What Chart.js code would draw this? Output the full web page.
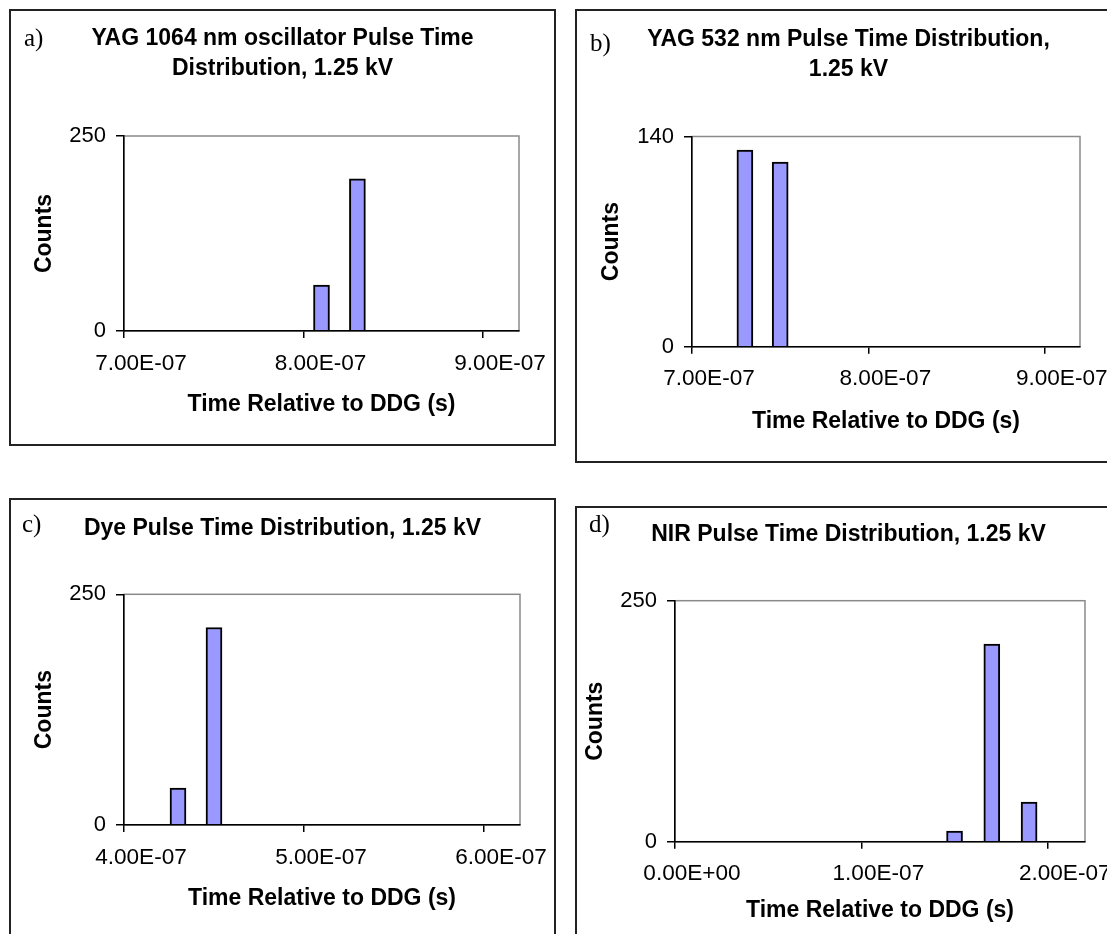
<!DOCTYPE html>
<html>
<head>
<meta charset="utf-8">
<script src="https://cdn.jsdelivr.net/npm/chart.js@4.4.1/dist/chart.umd.min.js"></script>
<style>
  html, body { margin: 0; padding: 0; background: #fff; overflow: hidden; }
  body { width: 1107px; height: 934px; position: relative; }
  .panel { position: absolute; box-sizing: border-box; border: 2px solid #222; background: #fff; }
  .panel canvas { position: absolute; left: 0; top: 0; }
  .tag { position: absolute; font-family: 'Liberation Serif', 'Times New Roman', serif;
         font-size: 25px; line-height: 1; color: #000; }
</style>
</head>
<body>
<div class="panel" id="pa" style="left:9px; top:9px; width:547px; height:437px"><canvas id="ca"></canvas></div>
<div class="panel" id="pb" style="left:575px; top:9px; width:547px; height:454px"><canvas id="cb"></canvas></div>
<div class="panel" id="pc" style="left:9px; top:498px; width:547px; height:442px"><canvas id="cc"></canvas></div>
<div class="panel" id="pd" style="left:575px; top:506px; width:547px; height:450px"><canvas id="cd"></canvas></div>
<span class="tag" style="left:24px; top:25px">a)</span>
<span class="tag" style="left:590px; top:30px">b)</span>
<span class="tag" style="left:22px; top:511px">c)</span>
<span class="tag" style="left:589px; top:511px">d)</span>

<script>
// ── data ─────────────────────────────────────────────────────────────────────
const titleA  = ['YAG 1064 nm oscillator Pulse Time', 'Distribution, 1.25 kV'];
const binsA   = [8.1e-7, 8.3e-7];
const countsA = [59, 195];
const xTicksA = [7e-7, 8e-7, 9e-7];
const xMaxA   = 9.2e-7;
const yTicksA = [0, 250];

const titleB  = ['YAG 532 nm Pulse Time Distribution,', '1.25 kV'];
const binsB   = [7.3e-7, 7.5e-7];
const countsB = [131, 123];
const xTicksB = [7e-7, 8e-7, 9e-7];
const xMaxB   = 9.2e-7;
const yTicksB = [0, 140];

const titleC  = ['Dye Pulse Time Distribution, 1.25 kV'];
const binsC   = [4.3e-7, 4.5e-7];
const countsC = [40, 214];
const xTicksC = [4e-7, 5e-7, 6e-7];
const xMaxC   = 6.2e-7;
const yTicksC = [0, 250];

const titleD  = ['NIR Pulse Time Distribution, 1.25 kV'];
const binsD   = [1.5e-7, 1.7e-7, 1.9e-7];
const countsD = [11, 205, 41];
const xTicksD = [0, 1e-7, 2e-7];
const xMaxD   = 2.2e-7;
const yTicksD = [0, 250];

const X_TITLE = 'Time Relative to DDG (s)';
const Y_TITLE = 'Counts';

// ── helpers ──────────────────────────────────────────────────────────────────
Chart.defaults.font.family = "'Liberation Sans', Arial, sans-serif";
Chart.defaults.color = '#000';

// Excel style scientific label: 7.00E-07
function sci(v) {
  const [m, e] = Number(v).toExponential(2).split('e');
  const n = parseInt(e, 10);
  return m + 'E' + (n < 0 ? '-' : '+') + String(Math.abs(n)).padStart(2, '0');
}

// grey frame round the plot area (axes are drawn over it in black)
const plotFrame = {
  id: 'plotFrame',
  beforeDraw(chart) {
    const { ctx, chartArea: a } = chart;
    ctx.save();
    ctx.strokeStyle = '#8a8a8a';
    ctx.lineWidth = 1.5;
    ctx.strokeRect(a.left, a.top, a.right - a.left, a.bottom - a.top);
    ctx.restore();
  },
};

function makePanel(canvasId, size, g, title, bins, counts, xTicks, xMax, yTicks) {
  const el = document.getElementById(canvasId);
  el.width = size[0];
  el.height = size[1];
  const titleFont = { size: 23, weight: 'bold', lineHeight: 30 / 23 };
  const axisFont  = { size: 23, weight: 'bold', lineHeight: 1.2 };

  new Chart(el, {
    type: 'bar',
    data: {
      datasets: [{
        data: bins.map((x, i) => ({ x, y: counts[i] })),
        backgroundColor: '#9999ff',
        borderColor: '#000',
        borderWidth: 2,
        barThickness: 16,
      }],
    },
    options: {
      responsive: false,
      animation: false,
      devicePixelRatio: 1,
      layout: { padding: 0 },
      plugins: {
        legend:  { display: false },
        tooltip: { enabled: false },
        title: {
          display: true,
          text: title,
          font: titleFont,
          color: '#000',
          padding: { top: g.tpt, bottom: g.tpb },
        },
      },
      scales: {
        x: {
          type: 'linear',
          min: xTicks[0],
          max: xMax,
          offset: false,
          afterBuildTicks: s => { s.ticks = xTicks.map(v => ({ value: v })); },
          afterFit: s => { s.height = g.xh; },
          // Excel draws these labels a little to the right of their ticks
          ticks: { font: { size: 22.6 }, padding: 12, labelOffset: 17, maxRotation: 0, autoSkip: false,
                   callback: v => sci(v) },
          grid:  { offset: false, drawOnChartArea: false, drawTicks: true, tickLength: 7, color: '#000', lineWidth: 1.5 },
          border: { color: '#000', width: 1.5, z: 1 },
          title: { display: true, text: X_TITLE, font: axisFont, padding: { top: 0, bottom: g.xtp } },
        },
        y: {
          min: yTicks[0],
          max: yTicks[yTicks.length - 1],
          afterBuildTicks: s => { s.ticks = yTicks.map(v => ({ value: v })); },
          afterFit: s => { s.width = g.yw; },
          ticks: { font: { size: 22 }, padding: 10 },
          grid:  { drawOnChartArea: false, drawTicks: true, tickLength: 8, color: '#000', lineWidth: 1.5 },
          border: { color: '#000', width: 1.5, z: 1 },
          title: { display: true, text: Y_TITLE, font: axisFont, padding: { top: g.ytp, bottom: 0 } },
        },
        // empty right-hand gutter so the title stays centred on the panel
        r: {
          type: 'linear',
          position: 'right',
          grid:   { display: false },
          border: { display: false },
          ticks:  { display: false },
          afterFit: s => { s.width = g.rw; },
        },
      },
    },
    plugins: [plotFrame],
  });
}

makePanel('ca', [543, 433], { yw: 113, rw: 35, tpt: 12.3, tpb: 52.7, xh: 113,   ytp: 20.2, xtp: 25.2 },
  titleA, binsA, countsA, xTicksA, xMaxA, yTicksA);
makePanel('cb', [543, 450], { yw: 115, rw: 40, tpt: 14,   tpb: 51.5, xh: 114.3, ytp: 20.9, xtp: 25.2 },
  titleB, binsB, countsB, xTicksB, xMaxB, yTicksB);
makePanel('cc', [543, 438], { yw: 113, rw: 34, tpt: 13.3, tpb: 51,   xh: 113,   ytp: 20.2, xtp: 25.2 },
  titleC, binsC, countsC, xTicksC, xMaxC, yTicksC);
makePanel('cd', [543, 446], { yw: 98,  rw: 35, tpt: 12,   tpb: 50.7, xh: 112.3, ytp: 5.2,  xtp: 29.2 },
  titleD, binsD, countsD, xTicksD, xMaxD, yTicksD);
</script>
</body>
</html>
